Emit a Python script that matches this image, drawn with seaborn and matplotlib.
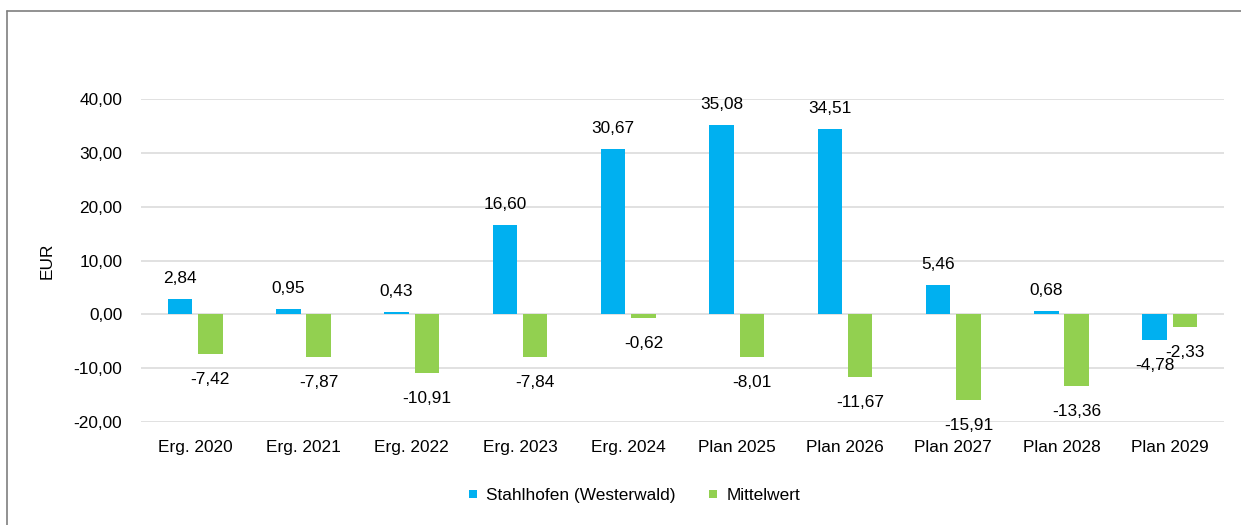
import matplotlib
matplotlib.use("Agg")
import matplotlib.pyplot as plt
import seaborn as sns
import pandas as pd
from matplotlib.lines import Line2D
from matplotlib.ticker import FuncFormatter, MultipleLocator

# Data
categories = ["Erg. 2020", "Erg. 2021", "Erg. 2022", "Erg. 2023", "Erg. 2024",
              "Plan 2025", "Plan 2026", "Plan 2027", "Plan 2028", "Plan 2029"]
stahlhofen = [2.84, 0.95, 0.43, 16.60, 30.67, 35.08, 34.51, 5.46, 0.68, -4.78]
mittelwert = [-7.42, -7.87, -10.91, -7.84, -0.62, -8.01, -11.67, -15.91, -13.36, -2.33]
series_names = ["Stahlhofen (Westerwald)", "Mittelwert"]
series_colors = ["#00B0F0", "#92D050"]

df = pd.DataFrame({
    "Jahr": categories * 2,
    "Reihe": [series_names[0]] * len(categories) + [series_names[1]] * len(categories),
    "Wert": stahlhofen + mittelwert,
})

sns.set_style("white")
plt.rcParams["font.family"] = ["Liberation Sans", "DejaVu Sans"]
plt.rcParams["text.color"] = "black"
plt.rcParams["axes.labelcolor"] = "black"
FS = 12.4

W, H = 1241, 525
fig = plt.figure(figsize=(W / 100, H / 100), dpi=100)
ax = fig.add_axes([141 / W, 1 - 422 / H, (1224 - 141) / W, (422 - 99) / H])

sns.barplot(data=df, x="Jahr", y="Wert", hue="Reihe", hue_order=series_names,
            order=categories, palette=series_colors, width=0.56, gap=0.19,
            linewidth=0, saturation=1, legend=False, ax=ax)

ax.set_ylim(-20, 40)
ax.set_xlim(-0.5, len(categories) - 0.5)
ax.yaxis.set_major_locator(MultipleLocator(10))
ax.yaxis.set_major_formatter(FuncFormatter(lambda v, p: f"{v:.2f}".replace(".", ",")))
ax.grid(axis="y", color="#D9D9D9", linewidth=1.1)
ax.grid(axis="x", visible=False)
ax.set_axisbelow(True)
for s in ax.spines.values():
    s.set_visible(False)
ax.tick_params(axis="x", length=0, pad=13, labelsize=FS, colors="black")
ax.tick_params(axis="y", length=0, pad=13.5, labelsize=FS, colors="black")
ax.set_xlabel("")
ax.set_ylabel("EUR", fontsize=FS, color="black")
ax.yaxis.set_label_coords(-0.0794, 0.5)

# Value labels
for container, values in zip(ax.containers, [stahlhofen, mittelwert]):
    for bar, v in zip(container.patches, values):
        x = bar.get_x() + bar.get_width() / 2
        label = f"{v:.2f}".replace(".", ",")
        if v >= 0:
            ax.annotate(label, (x, v), xytext=(0, 16), textcoords="offset pixels",
                        ha="center", va="baseline", fontsize=FS, color="black",
                        annotation_clip=False)
        else:
            ax.annotate(label, (x, v), xytext=(0, -18), textcoords="offset pixels",
                        ha="center", va="top", fontsize=FS, color="black",
                        annotation_clip=False)

# Legend
handles = [Line2D([], [], linestyle="none", marker="s", markersize=5.8,
                  markerfacecolor=c, markeredgewidth=0) for c in series_colors]
leg = fig.legend(handles, series_names, loc="center", bbox_to_anchor=(634 / W, 1 - 495 / H),
                 ncol=2, frameon=False, fontsize=FS, handlelength=0.6, handletextpad=0.45,
                 columnspacing=1.9)
for t in leg.get_texts():
    t.set_color("black")

# Outer frame (top and left edges)
fig.add_artist(Line2D([7 / W, 1], [1 - 11 / H, 1 - 11 / H], color="#7F7F7F", linewidth=1.2,
                      transform=fig.transFigure))
fig.add_artist(Line2D([7 / W, 7 / W], [0, 1 - 11 / H], color="#7F7F7F", linewidth=1.2,
                      transform=fig.transFigure))

fig.savefig("out.png", dpi=100)
